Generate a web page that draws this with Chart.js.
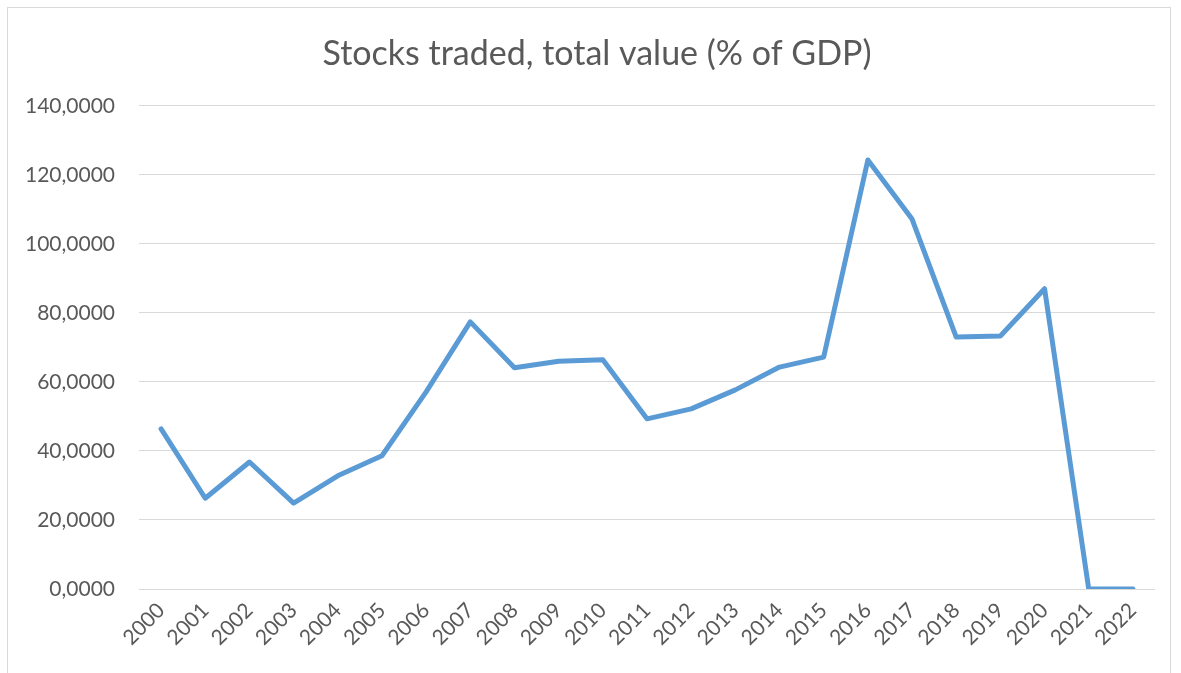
<!DOCTYPE html>
<html>
<head>
<meta charset="utf-8">
<script src="https://cdn.jsdelivr.net/npm/chart.js@4.4.1/dist/chart.umd.min.js"></script>
<style>
  html, body { margin:0; padding:0; background:#fff; }
  #wrap { position:relative; width:1181px; height:673px; overflow:hidden; }
  #frame { position:absolute; left:7px; top:7px; width:1164px; height:700px; border:1px solid #d9d9d9; box-sizing:border-box; }
  canvas { position:absolute; left:0; top:0; }
</style>
</head>
<body>
<div id="wrap">
  <div id="frame"></div>
  <canvas id="chart" width="1181" height="673"></canvas>
</div>
<script>
const years = ['2000','2001','2002','2003','2004','2005','2006','2007','2008','2009','2010','2011',
  '2012','2013','2014','2015','2016','2017','2018','2019','2020','2021','2022']
const stocksTraded = [46.4, 26.3, 36.8, 24.9, 32.8, 38.6, 57.1, 77.4, 64.1, 66.0, 66.4, 49.3,
  52.2, 57.7, 64.3, 67.2, 124.3, 107.2, 73.0, 73.3, 87.0, 0, 0]
const yTicks = [0, 20, 40, 60, 80, 100, 120, 140]

const FONT = 'Lato, "Open Sans", sans-serif'
const GREY = '#595959'

new Chart(document.getElementById('chart'), {
  type: 'line',
  data: {
    labels: years,
    datasets: [{
      label: 'Stocks traded, total value (% of GDP)',
      data: stocksTraded,
      borderColor: '#5b9bd5',
      borderWidth: 5,
      borderCapStyle: 'round',
      borderJoinStyle: 'round',
      pointRadius: 0,
      tension: 0,
      fill: false
    }]
  },
  options: {
    responsive: false,
    animation: false,
    layout: { padding: { left: 13, right: 0, top: 0, bottom: 0 } },
    plugins: {
      legend: { display: false },
      tooltip: { enabled: false },
      title: {
        display: true,
        text: 'Stocks traded, total value (% of GDP)',
        color: GREY,
        font: { family: FONT, size: 34, weight: 'normal', lineHeight: 1.2 },
        padding: { top: 34, bottom: 31 }
      }
    },
    scales: {
      x: {
        offset: true,
        grid: { display: false, drawTicks: false, offset: true },
        border: { display: false },
        ticks: {
          color: GREY, font: { family: FONT, size: 21 },
          minRotation: 45, maxRotation: 45, padding: 9, autoSkip: false
        },
        afterFit: s => { s.height = 84 }
      },
      y: {
        min: 0, max: 140,
        grid: { color: '#d9d9d9', lineWidth: 1, drawTicks: false },
        border: { display: false },
        afterBuildTicks: s => { s.ticks = yTicks.map(v => ({ value: v })) },
        ticks: {
          color: GREY, font: { family: FONT, size: 21 }, padding: 24,
          callback: v => v.toFixed(4).replace('.', ',')
        },
        afterFit: s => { s.width = 126 }
      },
      // empty right-hand spacer so the plot ends where the reference does
      spacer: {
        position: 'right',
        grid: { display: false, drawTicks: false },
        border: { display: false },
        ticks: { display: false },
        afterFit: s => { s.width = 26 }
      }
    }
  }
})
</script>
</body>
</html>
